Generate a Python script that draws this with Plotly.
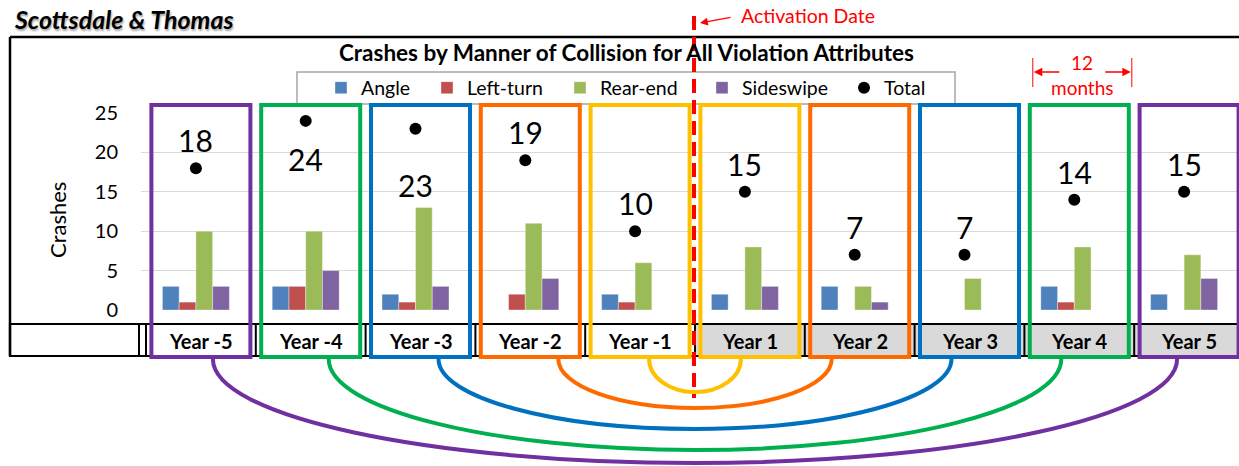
import plotly.graph_objects as go

# ---------------- data ----------------
categories = ["Year -5", "Year -4", "Year -3", "Year -2", "Year -1",
              "Year 1", "Year 2", "Year 3", "Year 4", "Year 5"]
angle     = [3, 3, 2, 0, 2, 2, 3, 0, 3, 2]
left_turn = [1, 3, 1, 2, 1, 0, 0, 0, 1, 0]
rear_end  = [10, 10, 13, 11, 6, 8, 3, 4, 8, 7]
sideswipe = [3, 5, 3, 4, 0, 3, 1, 0, 0, 4]
total     = [18, 24, 23, 19, 10, 15, 7, 7, 14, 15]
y_ticks   = [0, 5, 10, 15, 20, 25]

# ---------------- styles ----------------
FONT = "Lato"
SERIES_COLORS = {"Angle": "#4F81BD", "Left-turn": "#C0504D",
                 "Rear-end": "#9BBB59", "Sideswipe": "#8064A2"}
BOX_COLORS = ["#7030A0", "#00B050", "#0070C0", "#FF6A00", "#FFC000",
              "#FFC000", "#FF6A00", "#0070C0", "#00B050", "#7030A0"]
LABEL_SHIFT = [28, -38, -56, 28, 28, 28, 28, 28, 28, 28]
ARC_INSET = [9, 28, 18, 18, 12]       # pair distance 0.5 .. 4.5 categories
ARC_DEPTH = [33, 49, 70, 91, 104]

FIG_W, FIG_H = 1239, 466
L, W = 141, 1098          # plot area left / width (px)
T, H = 113, 197           # plot area top / height (px)
N = len(categories)
CW = W / N
DX = 5                    # decoration offset vs category grid


def xp(px):
    return (px - L) / W


def yp(py):
    return (T + H - py) / H


def cx(i):
    return L + (i + 0.5) * CW


idx = list(range(N))
fig = go.Figure()

for name, vals in [("Angle", angle), ("Left-turn", left_turn),
                   ("Rear-end", rear_end), ("Sideswipe", sideswipe)]:
    fig.add_trace(go.Bar(x=idx, y=vals, name=name,
                         marker=dict(color=SERIES_COLORS[name],
                                     line=dict(color="rgba(255,255,255,0.6)", width=0.6))))

fig.add_trace(go.Scatter(x=idx, y=total, name="Total", mode="markers",
                         marker=dict(color="black", size=12), cliponaxis=False))

# separate legends so each entry sits where it does in the reference
legend_centers = [345, 451, 584, 726, 868]
legend_names = ["legend", "legend2", "legend3", "legend4", "legend5"]
for tr, ln in zip(fig.data, legend_names):
    tr.legend = ln

legend_layout = {}
for ln, c in zip(legend_names, legend_centers):
    legend_layout[ln] = dict(x=xp(c - 24), xanchor="left", y=yp(88), yanchor="middle",
                             bgcolor="rgba(0,0,0,0)", borderwidth=0,
                             font=dict(family=FONT, size=19.5, color="#000"),
                             orientation="h", itemwidth=30)

shapes = []
annotations = []

# outer chart frame (top + left)
shapes.append(dict(type="line", xref="paper", yref="paper",
                   x0=xp(10), x1=xp(FIG_W + 2), y0=yp(37), y1=yp(37),
                   line=dict(color="black", width=2.5)))
shapes.append(dict(type="line", xref="paper", yref="paper",
                   x0=xp(10), x1=xp(10), y0=yp(37), y1=yp(356),
                   line=dict(color="black", width=2.5)))

# legend frame
shapes.append(dict(type="rect", xref="paper", yref="paper",
                   x0=xp(297), x1=xp(955), y0=yp(72), y1=yp(104),
                   line=dict(color="#A6A6A6", width=1.5), fillcolor="white", layer="below"))

# table row
tb_top, tb_bot = 324, 356
bounds = [L + k * CW + DX for k in range(N + 1)]
for i in range(N):
    if i >= 5:
        shapes.append(dict(type="rect", xref="paper", yref="paper",
                           x0=xp(bounds[i]), x1=xp(bounds[i + 1]), y0=yp(tb_top), y1=yp(tb_bot),
                           line=dict(width=0), fillcolor="#D9D9D9"))
shapes.append(dict(type="rect", xref="paper", yref="paper",
                   x0=xp(10), x1=xp(FIG_W + 2), y0=yp(tb_top), y1=yp(tb_bot),
                   line=dict(color="black", width=2.2)))
for b in [139] + bounds[:-1]:
    shapes.append(dict(type="line", xref="paper", yref="paper",
                       x0=xp(b), x1=xp(b), y0=yp(tb_top), y1=yp(tb_bot),
                       line=dict(color="black", width=2)))
for i, cat in enumerate(categories):
    annotations.append(dict(x=xp(cx(i) + DX), y=yp(341), xref="paper", yref="paper",
                            xanchor="center", yanchor="middle",
                            text=f"<b>{cat}</b>", showarrow=False,
                            font=dict(family=FONT, size=20, color="black")))

# coloured year boxes
for i in range(N):
    c = cx(i) + DX
    shapes.append(dict(type="rect", xref="paper", yref="paper",
                       x0=xp(c - 49.5), x1=xp(c + 49.5), y0=yp(105), y1=yp(357),
                       line=dict(color=BOX_COLORS[i], width=4)))

# arcs connecting matching years
center = L + (N / 2) * CW + DX
y0 = 359
k = 0.5523
for d in range(5):
    rx = (d + 0.5) * CW - ARC_INSET[d]
    x1, x2 = center - rx, center + rx
    yb = y0 + ARC_DEPTH[d]
    path = (f"M {xp(x1)},{yp(y0)} "
            f"C {xp(x1)},{yp(y0 + k * (yb - y0))} {xp(center - k * rx)},{yp(yb)} {xp(center)},{yp(yb)} "
            f"C {xp(center + k * rx)},{yp(yb)} {xp(x2)},{yp(y0 + k * (yb - y0))} {xp(x2)},{yp(y0)}")
    shapes.append(dict(type="path", xref="paper", yref="paper", path=path,
                       line=dict(color=BOX_COLORS[4 - d], width=4)))

# activation date line
act_x = L + (N / 2) * CW + 4
shapes.append(dict(type="line", xref="paper", yref="paper",
                   x0=xp(act_x), x1=xp(act_x), y0=yp(16), y1=yp(398),
                   line=dict(color="#FF0000", width=4, dash="14px,7px")))
annotations.append(dict(x=xp(808), y=yp(15), xref="paper", yref="paper",
                        xanchor="center", yanchor="middle",
                        text="Activation Date", showarrow=False,
                        font=dict(family=FONT, size=19.5, color="#FF0000")))
annotations.append(dict(x=xp(act_x + 6), y=yp(23), xref="paper", yref="paper", text="",
                        showarrow=True, ax=32, ay=-6, arrowhead=2, arrowsize=1.2,
                        arrowwidth=1.3, arrowcolor="#FF0000"))

# 12 months marker (over Year 4 box)
m_c = cx(8) + DX + 3
m_l, m_r = m_c - 49.5, m_c + 49.5
for xx in (m_l, m_r):
    shapes.append(dict(type="line", xref="paper", yref="paper",
                       x0=xp(xx), x1=xp(xx), y0=yp(58), y1=yp(87),
                       line=dict(color="#FF0000", width=1)))
annotations.append(dict(x=xp(m_l + 1), y=yp(72), xref="paper", yref="paper", text="",
                        showarrow=True, ax=27, ay=0, arrowhead=2, arrowsize=1.3,
                        arrowwidth=1.3, arrowcolor="#FF0000"))
annotations.append(dict(x=xp(m_r - 1), y=yp(72), xref="paper", yref="paper", text="",
                        showarrow=True, ax=-27, ay=0, arrowhead=2, arrowsize=1.3,
                        arrowwidth=1.3, arrowcolor="#FF0000"))
annotations.append(dict(x=xp(m_c), y=yp(63), xref="paper", yref="paper", text="12",
                        xanchor="center", yanchor="middle",
                        showarrow=False, font=dict(family=FONT, size=19, color="#FF0000")))
annotations.append(dict(x=xp(m_c), y=yp(88), xref="paper", yref="paper", text="months",
                        xanchor="center", yanchor="middle",
                        showarrow=False, font=dict(family=FONT, size=19, color="#FF0000")))

# total data labels
for i, v in enumerate(total):
    annotations.append(dict(x=i, y=v, xref="x", yref="y", text=str(v), showarrow=False,
                            yshift=LABEL_SHIFT[i], yanchor="middle", xanchor="center",
                            font=dict(family=FONT, size=30, color="black")))

# titles
annotations.append(dict(x=xp(12), y=yp(19), xref="paper", yref="paper",
                        xanchor="left", yanchor="middle",
                        text="<b><i>Scottsdale &amp; Thomas</i></b>", showarrow=False,
                        font=dict(family=FONT, size=25, color="black",
                                  shadow="1px 2px 2px rgba(0,0,0,0.35)")))
annotations.append(dict(x=xp(626), y=yp(52), xref="paper", yref="paper",
                        xanchor="center", yanchor="middle",
                        text="<b>Crashes by Manner of Collision for All Violation Attributes</b>",
                        showarrow=False, font=dict(family=FONT, size=22.5, color="black")))
annotations.append(dict(x=xp(57), y=yp(220), xref="paper", yref="paper", text="Crashes",
                        xanchor="center", yanchor="middle",
                        textangle=-90, showarrow=False,
                        font=dict(family=FONT, size=22, color="black")))

fig.update_layout(
    width=FIG_W, height=FIG_H,
    margin=dict(l=L, r=FIG_W - L - W, t=T, b=FIG_H - T - H, pad=0),
    paper_bgcolor="white", plot_bgcolor="white",
    barmode="group", bargap=0.39, bargroupgap=0,
    showlegend=True,
    xaxis=dict(range=[-0.5, N - 0.5], showticklabels=False, showgrid=False,
               zeroline=False, showline=False, fixedrange=True),
    yaxis=dict(range=[0, 25], tickvals=y_ticks, showgrid=True, gridcolor="#D9D9D9",
               gridwidth=1, zeroline=False, showline=False, ticks="",
               ticklabelstandoff=22,
               tickfont=dict(family=FONT, size=20, color="#000")),
    shapes=shapes, annotations=annotations,
    **legend_layout,
)

# remove the browser's default page margin so the figure fills the window exactly
fig.write_html("out.html",
               config={"displayModeBar": False},
               post_script="document.body.style.margin='0';"
                           "document.documentElement.style.margin='0';")
